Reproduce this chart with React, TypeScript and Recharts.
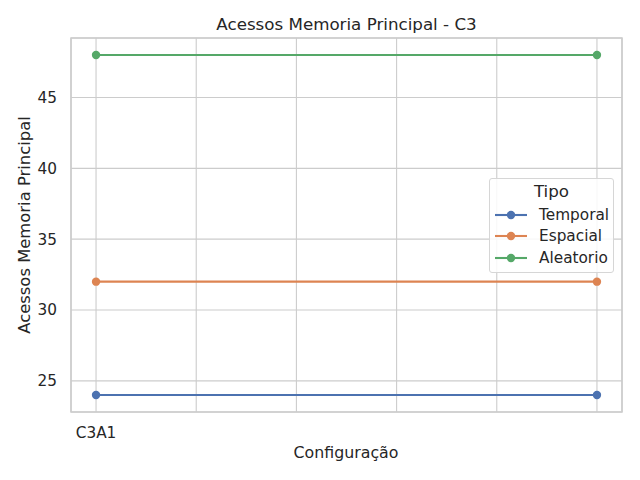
import React from 'react';
import { LineChart, Line, XAxis, YAxis, CartesianGrid, ReferenceArea, Label } from 'recharts';

const xTickLabels = ['C3A1', '', '', '', '', ''];
const xPositions = [0, 5];
const temporal = [24, 24];
const espacial = [32, 32];
const aleatorio = [48, 48];
const seriesNames = ['Temporal', 'Espacial', 'Aleatorio'];
const colors = ['#4c72b0', '#dd8452', '#55a868'];
const yTicks = [25, 30, 35, 40, 45];

const data = xPositions.map((x, i) => ({
  x,
  Temporal: temporal[i],
  Espacial: espacial[i],
  Aleatorio: aleatorio[i],
}));

const FONT = 'DejaVu Sans, sans-serif';
const TXT = '#262626';

const LegendBox = () => (
  <div
    style={{
      position: 'absolute',
      left: 489,
      top: 178,
      width: 123,
      height: 93,
      border: '1px solid #d6d6d6',
      borderRadius: 3,
      background: 'rgba(255,255,255,0.85)',
      fontFamily: FONT,
      color: TXT,
      boxSizing: 'content-box',
    }}
  >
    <div style={{ textAlign: 'center', fontSize: 16.7, lineHeight: '16px', marginTop: 4, height: 21 }}>Tipo</div>
    {seriesNames.map((n, i) => (
      <div key={n} style={{ display: 'flex', alignItems: 'center', height: 21.6 }}>
        <svg width={44} height={12} style={{ marginLeft: 4 }}>
          <line x1={1} y1={6} x2={33} y2={6} stroke={colors[i]} strokeWidth={2.1} />
          <circle cx={17} cy={6} r={4.2} fill={colors[i]} />
        </svg>
        <span style={{ fontSize: 15.3, marginLeft: 1 }}>{n}</span>
      </div>
    ))}
  </div>
);

export default function App() {
  return (
    <div style={{ position: 'absolute', left: 0, top: 0, width: 640, height: 480, background: '#fff' }}>
      <div
        style={{
          position: 'absolute',
          left: 71,
          width: 551,
          top: 14,
          textAlign: 'center',
          fontFamily: FONT,
          fontSize: 16.7,
          color: TXT,
          lineHeight: '20px',
        }}
      >
        Acessos Memoria Principal - C3
      </div>
      <LineChart width={640} height={480} data={data} margin={{ top: 38, right: 18, left: 0, bottom: 0 }}>
        <CartesianGrid stroke="#cccccc" strokeWidth={1.1} />
        <XAxis
          type="number"
          dataKey="x"
          domain={[-0.25, 5.25]}
          ticks={[0, 1, 2, 3, 4, 5]}
          tickFormatter={(v: number) => xTickLabels[v] ?? ''}
          axisLine={false}
          tickLine={false}
          tickMargin={9}
          height={68}
          tick={{ fontFamily: FONT, fontSize: 15.3, fill: TXT }}
          allowDataOverflow
        >
          <Label
            content={() => (
              <text x={346} y={458} textAnchor="middle" fontFamily={FONT} fontSize={15.8} fill={TXT}>
                Configuração
              </text>
            )}
          />
        </XAxis>
        <YAxis
          type="number"
          domain={[22.8, 49.2]}
          ticks={yTicks}
          axisLine={false}
          tickLine={false}
          tickMargin={8}
          width={71}
          tick={{ fontFamily: FONT, fontSize: 15.3, fill: TXT }}
          allowDataOverflow
        >
          <Label
            content={() => (
              <text
                x={30}
                y={225}
                textAnchor="middle"
                fontFamily={FONT}
                fontSize={16.4}
                fill={TXT}
                transform="rotate(-90 30 225)"
              >
                Acessos Memoria Principal
              </text>
            )}
          />
        </YAxis>
        <ReferenceArea
          x1={-0.25}
          x2={5.25}
          y1={22.8}
          y2={49.2}
          fill="none"
          stroke="#cccccc"
          strokeWidth={1.5}
          ifOverflow="extendDomain"
        />
        {seriesNames.map((n, i) => (
          <Line
            key={n}
            type="linear"
            dataKey={n}
            stroke={colors[i]}
            strokeWidth={2.1}
            dot={{ r: 4.2, fill: colors[i], stroke: colors[i], strokeWidth: 0 }}
            activeDot={false}
            isAnimationActive={false}
          />
        ))}
      </LineChart>
      <LegendBox />
    </div>
  );
}
